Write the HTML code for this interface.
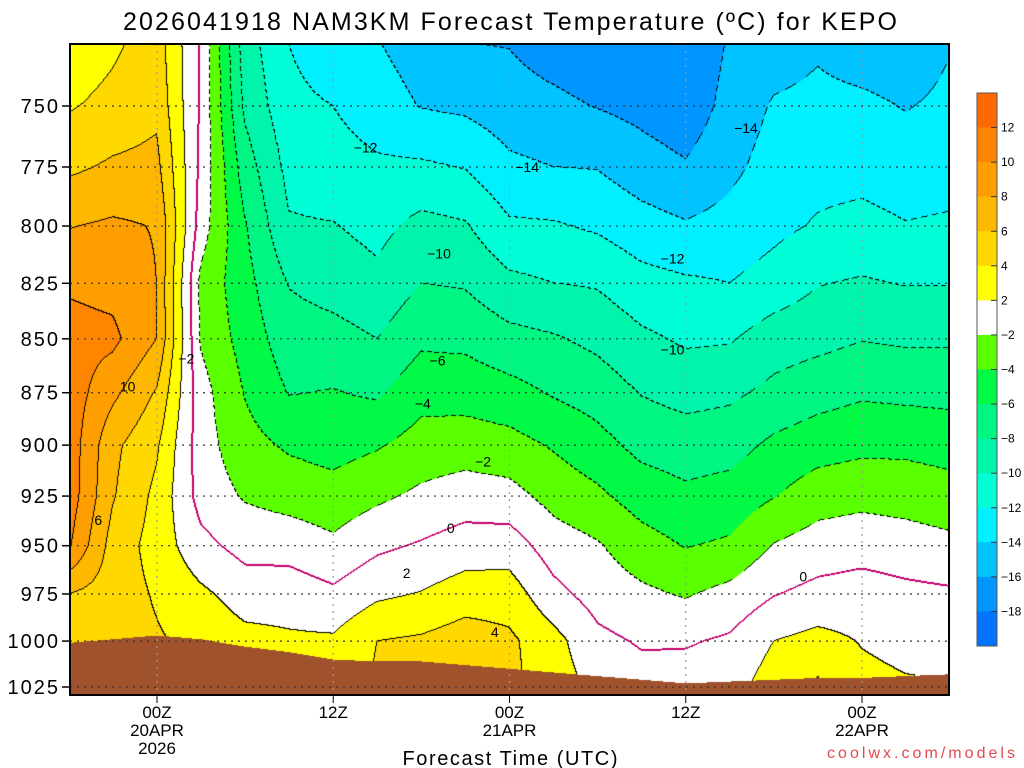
<!DOCTYPE html>
<html><head><meta charset="utf-8">
<style>
html,body{margin:0;padding:0;background:#fff;width:1024px;height:768px;overflow:hidden}
#wrap{position:relative;width:1024px;height:768px}
#field{position:absolute;left:70px;top:44px}
svg{position:absolute;left:0;top:0}
text{font-family:"Liberation Sans",sans-serif;fill:#000}
</style></head>
<body>
<div id="wrap">
<canvas id="field" width="879" height="651"></canvas>
<svg id="svg" width="1024" height="768"></svg>
</div>
<script>
// ---- data ----
const hours = [-6,-3,0,3,6,9,12,15,18,21,24,27,30,33,36,39,42,45,48,51,54];
const levels = [725,750,775,800,825,850,875,900,925,950,975,1000,1025];
const t725 = [2.5,3.6,5,-0.2,-9,-12,-13.5,-13.9,-15,-16,-16.1,-17,-17.5,-17.5,-17.8,-15.8,-15,-14.3,-15,-15.2,-14.1];
const t750 = [3.8,4.6,5.5,-0.3,-8.4,-11.4,-12,-13,-14.1,-14.4,-15.1,-15.5,-16.1,-16.6,-17.3,-15.3,-13.8,-13.5,-13.6,-14.1,-13.6];
const t775 = [5.6,6.3,6.6,-0.5,-7,-10.6,-11.2,-11.7,-11.7,-12.1,-13.6,-14,-14.1,-15.1,-15.8,-14.5,-13.2,-12.7,-12.7,-13.1,-12.9];
const t800 = [7.9,8.3,7.9,-1,-5.8,-9.8,-9.9,-10.6,-9.4,-9.8,-11.7,-11.8,-12.3,-13.2,-13.8,-13.3,-12.5,-11.8,-11.4,-11.9,-11.7];
const t825 = [9.7,9.3,8,-2.5,-5.3,-8.1,-8.8,-9.5,-8,-8.2,-9.5,-10,-10.2,-11.3,-11.7,-12,-11.2,-10.1,-9.8,-10.1,-10.1];
const t850 = [10.8,10.5,8,-2.2,-4.8,-7.1,-7.3,-8,-6.4,-6.5,-7.4,-7.8,-8.5,-9.6,-10.3,-10.2,-9,-8.6,-8.1,-8.3,-8.3];
const t875 = [11.2,8.5,5.8,-1.2,-4.1,-6.1,-5.9,-6.3,-4.7,-4.8,-5.3,-6.2,-6.9,-8.1,-8.7,-8.4,-7.5,-6.8,-6.3,-6.5,-6.6];
const t900 = [11.3,6.5,4.3,-1.1,-3.3,-4.3,-4.8,-4.2,-3.2,-3,-3.3,-4.2,-5.3,-6.6,-7,-6.8,-5.6,-4.9,-4.5,-4.5,-4.8];
const t925 = [11.2,6.2,3.5,-0.8,-2.2,-2.8,-3.2,-2.4,-1.6,-1,-1.3,-2.7,-3.6,-4.9,-5.6,-5.2,-4.1,-2.9,-2.6,-2.8,-3.2];
const t950 = [10.3,5.2,3.2,0.6,-0.7,-0.8,-1.6,-0.4,0.2,0.9,1,-1,-1.8,-3.2,-4.1,-3.7,-1.9,-1.1,-0.8,-1.1,-1.5];
const t975 = [6,5,3.8,2.4,1.1,1.1,0.4,1.6,2.1,3,3,0.6,-0.8,-1.6,-2.2,-1.4,-0.1,0.6,0.9,0.5,0.3];
const t1000 = [5,4.8,4.2,3.5,2.6,2.3,2.3,4,4.3,5,4.4,2.7,0.5,-0.2,-0.2,0.3,2,2.6,1.9,1.5,1.3];
const t1025 = [4.5,4.8,4.2,3.5,3,2.6,2.5,4.3,6,5.5,4.5,3,1.5,0.8,1,1.2,3,4.4,2.5,2.2,2.1];
const surfacePressure = [1001,999,997,999,1003,1006,1010,1011,1011,1013,1015,1017,1019,1021,1023,1022,1021,1020,1020,1019,1018];
const yTicks = [750,775,800,825,850,875,900,925,950,975,1000,1025];
const xTickHours = [0,12,24,36,48];
const xTickTop = ["00Z","12Z","00Z","12Z","00Z"];
const xTickMid = ["20APR","","21APR","","22APR"];
const xTickBot = ["2026","","","",""];
const cbLabels = ["12","10","8","6","4","2","−2","−4","−6","−8","−10","−12","−14","−16","−18"];
const cbColors = ["#ff6a00","#ff8400","#ff9e00","#ffb800","#ffd800","#ffff00","#ffffff","#5aff00","#00fa46","#00f582","#00f5aa","#00ffd7","#00f0ff","#00c3ff","#0096ff","#0073ff"];
const labelText = ["−12","−14","−14","−10","−12","−10","−6","−4","−2","0","2","4","0","−2","10","6"];
const labelHour = [14.2,25.2,40.1,19.2,35.1,35.1,19.1,18.1,22.2,20,17,23,44,2,-2,-4];
const labelPres = [767,775,759,812,814,855,860,880,908,941,964,995,966,859,872,937];

const tempRows = [t725,t750,t775,t800,t825,t850,t875,t900,t925,t950,t975,t1000,t1025];

// ---- axes ----
const X0=70,X1=949,Y0=44,Y1=695;
function xOf(h){return 157+h*14.6875;}
function yOf(p){return 106+1860*Math.log(p/750);}
function hOfX(x){return (x-157)/14.6875;}
function pOfY(y){return 750*Math.exp((y-106)/1860);}

function colorIdx(T){
  if(T>=12)return 0; if(T>=10)return 1; if(T>=8)return 2; if(T>=6)return 3;
  if(T>=4)return 4; if(T>=2)return 5; if(T>=-2)return 6; if(T>=-4)return 7;
  if(T>=-6)return 8; if(T>=-8)return 9; if(T>=-10)return 10; if(T>=-12)return 11;
  if(T>=-14)return 12; if(T>=-16)return 13; if(T>=-18)return 14; return 15;
}
function hex(c){return [parseInt(c.substr(1,2),16),parseInt(c.substr(3,2),16),parseInt(c.substr(5,2),16)];}
const rgb = cbColors.map(hex);
const lnLev = levels.map(Math.log);

function sampleT(h,p){
  let fi=(h-hours[0])/(hours[1]-hours[0]);
  fi=Math.max(0,Math.min(hours.length-1.0001,fi));
  const i=Math.floor(fi), a=fi-i;
  const lp=Math.log(p);
  let k=0; while(k<levels.length-2 && lp>lnLev[k+1]) k++;
  let b=(lp-lnLev[k])/(lnLev[k+1]-lnLev[k]); b=Math.max(0,Math.min(1,b));
  const r0=tempRows[k], r1=tempRows[k+1];
  const v0=r0[i]*(1-a)+r0[i+1]*a, v1=r1[i]*(1-a)+r1[i+1]*a;
  return v0*(1-b)+v1*b;
}
function surfP(h){
  let fi=(h-hours[0])/(hours[1]-hours[0]);
  fi=Math.max(0,Math.min(hours.length-1.0001,fi));
  const i=Math.floor(fi),a=fi-i;
  return surfacePressure[i]*(1-a)+surfacePressure[i+1]*a;
}

// ---- draw field ----
const cv=document.getElementById('field'); const ctx=cv.getContext('2d');
const W=cv.width,H=cv.height; const img=ctx.createImageData(W,H); const d=img.data;
const L=new Int16Array(W*H); const ground=new Uint8Array(W*H);
for(let y=0;y<H;y++){const p=pOfY(y+Y0+0.5);
  for(let x=0;x<W;x++){const h=hOfX(x+X0+0.5); const idx=y*W+x;
    if(p>surfP(h)){ground[idx]=1; L[idx]=-999; d[idx*4]=160;d[idx*4+1]=82;d[idx*4+2]=45;d[idx*4+3]=255;continue;}
    const T=sampleT(h,p); L[idx]=Math.floor(T/2);
    const c=rgb[colorIdx(T)]; d[idx*4]=c[0];d[idx*4+1]=c[1];d[idx*4+2]=c[2];d[idx*4+3]=255;}}
function setPx(idx,r,g,b){d[idx*4]=r;d[idx*4+1]=g;d[idx*4+2]=b;}
for(let y=0;y<H-1;y++){for(let x=0;x<W-1;x++){const idx=y*W+x; if(ground[idx])continue;
  const nb=[idx+1,idx+W];
  for(const n of nb){ if(ground[n]||L[n]===L[idx])continue;
    const v=2*Math.max(L[n],L[idx]);
    if(v===0){setPx(idx,200,0,110);setPx(n,200,0,110);}
    else if(v<0){ if(((x+y)%8)<5) setPx(idx,0,0,0);}
    else setPx(idx,0,0,0);
    break;}}}
ctx.putImageData(img,0,0);

// ---- svg ----
const NS='http://www.w3.org/2000/svg'; const svg=document.getElementById('svg');
function mk(tag,attrs,parent){const e=document.createElementNS(NS,tag);for(const k in attrs)e.setAttribute(k,attrs[k]);(parent||svg).appendChild(e);return e;}

const grid=mk('g',{});


yTicks.forEach(p=>{const y=yOf(p);
  const l=mk('line',{x1:X0,x2:X1,y1:y,y2:y,stroke:'#333','stroke-width':1.2,'stroke-dasharray':'2,5'},grid);
  
  
  const t=mk('line',{x1:62,x2:X0,y1:y,y2:y,stroke:'#000','stroke-width':1.5});
  
  
  const tx=mk('text',{x:60,y:y+7,'text-anchor':'end','font-size':20,'letter-spacing':2});
  tx.textContent=p;
  
  
});
xTickHours.forEach((h,i)=>{const x=xOf(h);
  const l=mk('line',{x1:x,x2:x,y1:Y0,y2:Y1,stroke:'#999','stroke-width':1.2,'stroke-dasharray':'2,5'},grid);
  
  
  const t=mk('line',{x1:x,x2:x,y1:Y1,y2:Y1+8,stroke:'#000','stroke-width':1});
  
  
  [xTickTop[i],xTickMid[i],xTickBot[i]].forEach((s,j)=>{ if(!s)return;
    const tx=mk('text',{x:x,y:718+j*18,'text-anchor':'middle','font-size':17});
    tx.textContent=s;
    
    
  });
});
labelText.forEach((s,i)=>{
  const tx=mk('text',{x:xOf(labelHour[i]),y:yOf(labelPres[i])+5,'text-anchor':'middle','font-size':14});
  tx.textContent=s;
  
  
});
const fr=mk('rect',{x:X0,y:Y0,width:X1-X0,height:Y1-Y0,fill:'none',stroke:'#000','stroke-width':2});


const cb=mk('g',{});


const cbTop=93,cbH=553/cbColors.length;
cbColors.forEach((c,i)=>{const r=mk('rect',{x:977,y:cbTop+i*cbH,width:20,height:cbH+0.5,fill:c},cb);
  
  });
mk('rect',{x:977,y:cbTop,width:20,height:553,fill:'none',stroke:'#555','stroke-width':1},cb);
cbLabels.forEach((s,i)=>{const y=cbTop+(i+1)*cbH;
  mk('line',{x1:991,x2:997,y1:y,y2:y,stroke:'#333','stroke-width':1},cb);
  const tx=mk('text',{x:1001,y:y+4,'font-size':12},cb); tx.textContent=s;
  
  });
</script>
<svg width="1024" height="768" style="position:absolute;left:0;top:0;pointer-events:none">
<text x="510" y="30" text-anchor="middle" font-size="25" textLength="774" lengthAdjust="spacing">2026041918 NAM3KM Forecast Temperature (ºC) for KEPO</text>
<text x="510" y="765" text-anchor="middle" font-size="20" textLength="215" lengthAdjust="spacing">Forecast Time (UTC)</text>
<text x="1015" y="758" text-anchor="end" font-size="16" textLength="188" lengthAdjust="spacing" style="fill:#e5484d">coolwx.com/models</text>
</svg>
</body></html>
